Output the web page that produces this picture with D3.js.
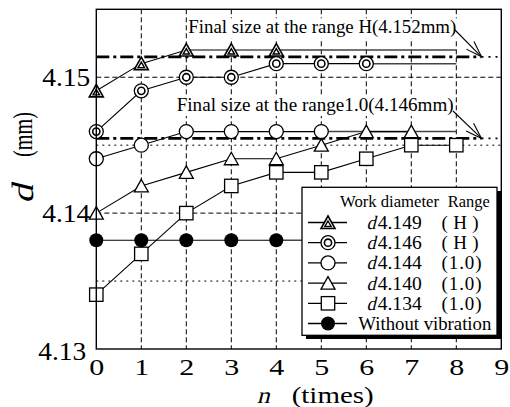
<!DOCTYPE html>
<html>
<head>
<meta charset="utf-8">
<script src="https://cdn.jsdelivr.net/npm/d3@7"></script>
<style>
  body { margin: 0; background: #fff; }
  svg { display: block; }
  svg text { font-family: "Liberation Serif", "Times New Roman", serif; fill: #000; }
</style>
</head>
<body>
<svg id="chart" width="510" height="407"></svg>
<script>
// times of vibration
const nTicks = [0, 1, 2, 3, 4, 5, 6, 7, 8, 9];
const dTicks = [4.13, 4.14, 4.15];

// measured diameter per series (index = n)
const dH149 = [4.149, 4.151, 4.152, 4.152, 4.152];
const dH146 = [4.146, 4.149, 4.150, 4.150, 4.151, 4.151, 4.151];
const d144 = [4.144, 4.145, 4.146, 4.146, 4.146, 4.146];
const d140 = [4.140, 4.142, 4.143, 4.144, 4.144, 4.145, 4.146, 4.146];
const d134 = [4.134, 4.137, 4.140, 4.142, 4.143, 4.143, 4.144, 4.145, 4.145];
const noVib = [4.138, 4.138, 4.138, 4.138, 4.138];

// final size lines
const finalSizes = [4.1515, 4.1455];
const finalLabels = ["Final size at the range H(4.152mm)", "Final size at the range1.0(4.146mm)"];

const legendWork = ["4.149", "4.146", "4.144", "4.140", "4.134"];
const legendRange = ["(H)", "(H)", "(1.0)", "(1.0)", "(1.0)"];

const series = [
  { vals: dH149, marker: "tri2", extTo: 8 },
  { vals: dH146, marker: "circ2", extTo: 8 },
  { vals: d144, marker: "circ", extTo: 8 },
  { vals: d140, marker: "tri", extTo: null },
  { vals: d134, marker: "sq", extTo: null },
  { vals: noVib, marker: "dot", extTo: 6 }
];

const svg = d3.select("#chart");
const x = d3.scaleLinear().domain([0, 9]).range([96.3, 501.3]);
const y = d3.scaleLinear().domain([4.13, 4.155]).range([349, 9.3]);

// fake italic: Liberation Serif regular, slanted
function slanted(g, tx, ty, rot, str, size, len) {
  return g.append("text")
    .attr("transform", `translate(${tx},${ty}) rotate(${rot}) skewX(-14)`)
    .attr("font-size", size)
    .attr("textLength", len).attr("lengthAdjust", "spacingAndGlyphs")
    .text(str);
}

// grid
const grid = svg.append("g");
grid.selectAll(".vg").data(d3.range(1, 9)).enter().append("line")
  .attr("x1", d => x(d)).attr("x2", d => x(d))
  .attr("y1", y(4.155)).attr("y2", y(4.13))
  .attr("stroke", "#000").attr("stroke-width", 1).attr("stroke-dasharray", "5,3");
grid.selectAll(".hd").data([4.14, 4.15]).enter().append("line")
  .attr("x1", x(0)).attr("x2", x(9))
  .attr("y1", d => y(d)).attr("y2", d => y(d))
  .attr("stroke", "#000").attr("stroke-width", 1).attr("stroke-dasharray", "5,3");
grid.selectAll(".hp").data([4.135, 4.145]).enter().append("line")
  .attr("x1", x(0)).attr("x2", x(9))
  .attr("y1", d => y(d)).attr("y2", d => y(d))
  .attr("stroke", "#000").attr("stroke-width", 1).attr("stroke-dasharray", "2,4");

// final size lines (dash-dot) with dotted tail
const tipN = 8.56;
finalSizes.forEach(v => {
  svg.append("line")
    .attr("x1", x(0)).attr("x2", x(tipN)).attr("y1", y(v)).attr("y2", y(v))
    .attr("stroke", "#000").attr("stroke-width", 2.6).attr("stroke-dasharray", "13,4,3,4");
  svg.append("line")
    .attr("x1", x(tipN)).attr("x2", x(9)).attr("y1", y(v)).attr("y2", y(v))
    .attr("stroke", "#000").attr("stroke-width", 1.6).attr("stroke-dasharray", "2,5");
});

// annotation texts with white background
const annX = [188.3, 176.7];
const annY = [33.3, 111];
const annLen = [268, 277];
finalLabels.forEach((t, i) => {
  svg.append("rect").attr("x", annX[i] - 1).attr("y", annY[i] - 15)
    .attr("width", annLen[i] + 2).attr("height", 20).attr("fill", "#fff");
  svg.append("text").attr("x", annX[i]).attr("y", annY[i])
    .attr("font-size", 19).attr("textLength", annLen[i]).attr("lengthAdjust", "spacingAndGlyphs")
    .text(t);
});

// series lines
series.forEach(s => {
  const pts = s.vals.map((v, i) => [x(i), y(v)]);
  svg.append("path").attr("d", d3.line()(pts))
    .attr("fill", "none").attr("stroke", "#000").attr("stroke-width", 1.1);
  if (s.extTo !== null) {
    const last = s.vals.length - 1;
    svg.append("line")
      .attr("x1", x(last)).attr("x2", x(s.extTo))
      .attr("y1", y(s.vals[last])).attr("y2", y(s.vals[last]))
      .attr("stroke", "#444").attr("stroke-width", 1.5);
  }
});

function marker(g, type, cx, cy) {
  const m = g.append("g").attr("transform", `translate(${cx},${cy})`);
  const st = { stroke: "#000", "stroke-width": 1.3, fill: "#fff" };
  const apply = sel => { Object.entries(st).forEach(([k, v]) => sel.attr(k, v)); return sel; };
  if (type === "circ" || type === "circ2") {
    apply(m.append("circle").attr("r", 7));
    if (type === "circ2") apply(m.append("circle").attr("r", 3.6)).attr("stroke-width", 1.6);
  } else if (type === "dot") {
    m.append("circle").attr("r", 7).attr("fill", "#000");
  } else if (type === "sq") {
    apply(m.append("rect").attr("x", -6.7).attr("y", -6.7).attr("width", 13.4).attr("height", 13.4));
  } else {
    apply(m.append("path").attr("d", "M0,-6.5L7,6L-7,6Z"));
    if (type === "tri2") {
      m.select("path").attr("stroke-width", 1.6);
      apply(m.append("path").attr("d", "M0,-1.5L3.2,4L-3.2,4Z")).attr("stroke-width", 1.4);
    }
  }
}

series.forEach(s => {
  const g = svg.append("g");
  s.vals.forEach((v, i) => marker(g, s.marker, x(i), y(v)));
});

// arrows
const arrowFrom = [[455, 30], [453, 111]];
finalSizes.forEach((v, i) => {
  const tx = x(tipN), ty = y(v);
  const [fx, fy] = arrowFrom[i];
  svg.append("line").attr("x1", fx).attr("y1", fy).attr("x2", tx).attr("y2", ty)
    .attr("stroke", "#000").attr("stroke-width", 1.1);
  const ang = Math.atan2(fy - ty, fx - tx);
  [-0.32, 0.32].forEach(da => {
    svg.append("line").attr("x1", tx).attr("y1", ty)
      .attr("x2", tx + 17 * Math.cos(ang + da)).attr("y2", ty + 17 * Math.sin(ang + da))
      .attr("stroke", "#000").attr("stroke-width", 1.1);
  });
});

// frame
svg.append("rect").attr("x", x(0)).attr("y", y(4.155))
  .attr("width", x(9) - x(0)).attr("height", y(4.13) - y(4.155))
  .attr("fill", "none").attr("stroke", "#000").attr("stroke-width", 1.4);

// axes
const yAxis = svg.append("g").attr("transform", `translate(${x(0)},0)`)
  .call(d3.axisLeft(y).tickValues(dTicks).tickSize(0).tickPadding(6).tickFormat(d3.format(".2f")));
yAxis.attr("font-family", null).attr("font-size", null);
yAxis.select(".domain").remove();
yAxis.selectAll("text").attr("font-size", 25)
  .attr("textLength", 48).attr("lengthAdjust", "spacingAndGlyphs")
  .attr("dy", d => d === 4.13 ? "0.42em" : "0.33em")
  .attr("dx", d => d === 4.13 ? -4 : 0);

const xAxis = svg.append("g").attr("transform", `translate(0,${y(4.13)})`)
  .call(d3.axisBottom(x).tickValues(nTicks).tickSize(0).tickPadding(9).tickFormat(d3.format("d")));
xAxis.attr("font-family", null).attr("font-size", null);
xAxis.select(".domain").remove();
xAxis.selectAll("text").attr("font-size", 24)
  .attr("textLength", 15).attr("lengthAdjust", "spacingAndGlyphs");

// axis titles
slanted(svg, 256.7, 403, 0, "n", 23, 13);
svg.append("text").attr("x", 291.7).attr("y", 403).attr("font-size", 23)
  .attr("textLength", 82).attr("lengthAdjust", "spacingAndGlyphs").text("(times)");
slanted(svg, 33, 203.5, -90, "d", 31, 19);
svg.append("text").attr("transform", "translate(32,157) rotate(-90)")
  .attr("font-size", 28)
  .attr("textLength", 45).attr("lengthAdjust", "spacingAndGlyphs").text("(mm)");

// legend
const lg = svg.append("g");
lg.append("rect").attr("x", 306).attr("y", 191).attr("width", 195).attr("height", 148).attr("fill", "#000");
lg.append("rect").attr("x", 302).attr("y", 187.3).attr("width", 195).attr("height", 148)
  .attr("fill", "#fff").attr("stroke", "#000").attr("stroke-width", 1.3);
lg.append("text").attr("x", 340).attr("y", 206.7).attr("font-size", 16)
  .attr("textLength", 99).attr("lengthAdjust", "spacingAndGlyphs").text("Work diameter");
lg.append("text").attr("x", 447.7).attr("y", 206.7).attr("font-size", 16)
  .attr("textLength", 42).attr("lengthAdjust", "spacingAndGlyphs").text("Range");

const rowY = d3.scaleLinear().domain([0, 5]).range([222.5, 323.5]);
series.forEach((s, i) => {
  const cy = rowY(i);
  lg.append("line").attr("x1", 308).attr("x2", 347).attr("y1", cy).attr("y2", cy)
    .attr("stroke", "#000").attr("stroke-width", 1.3);
  marker(lg, s.marker, 328, cy);
  if (i < 5) {
    slanted(lg, 366.5, cy + 6.5, 0, "d", 19, 9);
    lg.append("text").attr("x", 377.7).attr("y", cy + 6.5).attr("font-size", 19)
      .attr("textLength", 44).attr("lengthAdjust", "spacingAndGlyphs").text(legendWork[i]);
    lg.append("text").attr("x", 441.5).attr("y", cy + 6.5).attr("font-size", 19)
      .attr("textLength", i < 2 ? 37 : 40).attr("lengthAdjust", "spacing").text(legendRange[i]);
  } else {
    lg.append("text").attr("x", 358.3).attr("y", cy + 6.5).attr("font-size", 18)
      .attr("textLength", 133).attr("lengthAdjust", "spacingAndGlyphs").text("Without vibration");
  }
});
</script>
</body>
</html>
